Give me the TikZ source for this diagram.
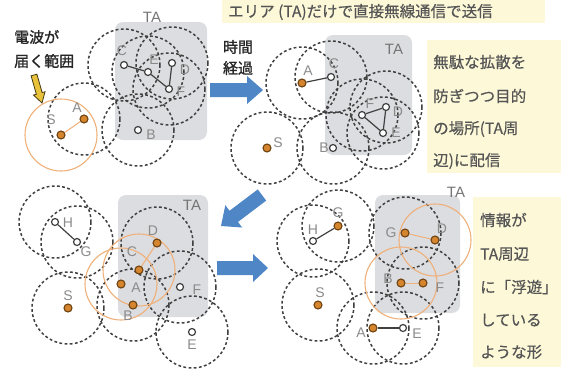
\documentclass[tikz,border=0pt]{standalone}
\usepackage{fontspec}
\setmainfont{Liberation Sans}
\newfontfamily\jp[FakeBold=0.4]{Noto Sans CJK JP}
\newfontfamily\jpb[FakeBold=1.3]{Noto Sans CJK JP}
\definecolor{rng}{HTML}{404040}
\definecolor{orng}{HTML}{EFB07A}
\definecolor{ofill}{HTML}{D6852F}
\definecolor{oline}{HTML}{6E4210}
\definecolor{tagray}{HTML}{DCDDE0}
\definecolor{lbl}{HTML}{8A8A8A}
\definecolor{pale}{HTML}{FCF8D8}
\definecolor{blu}{HTML}{4F86C6}
\definecolor{ylw}{HTML}{E8C23A}
\definecolor{jtxt}{HTML}{555555}
\pgfdeclarelayer{bg}
\pgfdeclarelayer{mid}
\pgfsetlayers{bg,mid,main}
\tikzset{
  wn/.style={circle, draw=rng, fill=white, line width=1.2pt, inner sep=0pt, minimum size=7pt},
  on/.style={circle, draw=oline, fill=ofill, line width=1.1pt, inner sep=0pt, minimum size=8pt},
  rngc/.style={draw=rng, line width=1.5pt, dash pattern=on 2.8pt off 2.4pt},
  orc/.style={draw=orng, line width=1.1pt},
  lab/.style={text=lbl, font=\fontsize{14}{14}\selectfont, inner sep=0pt},
  talab/.style={text=lbl!85!black, font=\fontsize{15}{15}\selectfont, inner sep=0pt},
  link/.style={draw=rng, line width=1.2pt},
  olink/.style={draw=orng, line width=1pt},
  tabox/.style={fill=tagray, rounded corners=8pt},
  jline/.style={text=jtxt, font=\jp\fontsize{15.5}{15.5}\selectfont, inner sep=0pt, anchor=west},
  jbold/.style={text=black!85, font=\jpb\fontsize{15}{15}\selectfont, inner sep=0pt},
  blarrow/.style={fill=blu},
}
\begin{document}
\begin{tikzpicture}[x=1pt,y=-1pt]
\useasboundingbox (0,0) rectangle (563,370);
% yellow text boxes
\fill[pale] (222,0) rectangle (545,23);
\node[jline] (banner) at (228,12) {エリア (TA)だけで直接無線通信で送信};
\fill[pale] (427,40) rectangle (561,173);
\node[jline] (t1a) at (433,62) {無駄な拡散を};
\node[jline] (t1b) at (433,96) {防ぎつつ目的};
\node[jline] (t1c) at (433,129) {の場所(TA周};
\node[jline] (t1d) at (433,161) {辺)に配信};
\fill[pale] (473,197) rectangle (561,367);
\node[jline] (t2a) at (480,220) {情報が};
\node[jline] (t2b) at (480,254) {TA周辺};
\node[jline] (t2c) at (480,287) {に「浮遊」};
\node[jline] (t2d) at (480,320) {している};
\node[jline] (t2e) at (480,352) {ような形};

% ===== Panel 1 =====
\begin{pgfonlayer}{bg}
\fill[tabox] (115,22) rectangle (207,140);
\end{pgfonlayer}
\node[talab] (p1TA) at (152,17) {TA};
\node[wn] (p1C) at (124,65) {};
\node[wn] (p1E) at (148,72) {};
\node[wn] (p1D) at (172,63) {};
\node[wn] (p1F) at (169,89) {};
\node[wn] (p1B) at (138,130) {};
\node[on] (p1S) at (61,135) {};
\node[on] (p1A) at (84,119) {};
\begin{pgfonlayer}{mid}
\foreach \n in {p1C,p1E,p1D,p1F,p1B,p1A} \draw[rngc] (\n.center) circle[radius=36];
\draw[orc] (p1S.center) circle[radius=36];
\draw[link] (p1C) -- (p1E);
\draw[link] (p1E) -- (p1F);
\draw[link] (p1D) -- (p1F);
\draw[olink] (p1S) -- (p1A);
\end{pgfonlayer}
\node[lab] (p1Cl) at (122,51) {C};
\node[lab] (p1El) at (154,60) {E};
\node[lab] (p1Dl) at (185,70) {D};
\node[lab] (p1Fl) at (181,92) {F};
\node[lab] (p1Bl) at (151,135) {B};
\node[lab] (p1Sl) at (51,120) {S};
\node[lab] (p1Al) at (77,108) {A};
\node[jbold, anchor=west] (rad1) at (14,37) {電波が};
\node[jbold, anchor=west] (rad2) at (14,61) {届く範囲};
\filldraw[fill=ylw, draw=black!70!ylw, line width=0.8pt, line join=miter]
  (36.89,74.17) -- (42.14,92.57) -- (45.02,91.75) -- (42,103) -- (33.48,95.05) -- (36.36,94.23) -- (31.11,75.83) -- cycle;

% time arrow
\node[jbold] (time1) at (238,47) {時間};
\node[jbold] (time2) at (238,68) {経過};
\fill[blarrow] (210,83) -- (247,83) -- (247,76) -- (263,90) -- (247,104) -- (247,97) -- (210,97) -- cycle;

% ===== Panel 2 =====
\begin{pgfonlayer}{bg}
\fill[tabox] (325,35) rectangle (412,155);
\end{pgfonlayer}
\node[talab] (p2TA) at (394,49) {TA};
\node[on] (p2A) at (302,83) {};
\node[wn] (p2C) at (331,77) {};
\node[wn] (p2F) at (362,115) {};
\node[wn] (p2D) at (386,107) {};
\node[wn] (p2E) at (383,133) {};
\node[wn] (p2B) at (333,148) {};
\node[on] (p2S) at (267,148) {};
\begin{pgfonlayer}{mid}
\foreach \n in {p2A,p2C,p2F,p2D,p2E,p2B,p2S} \draw[rngc] (\n.center) circle[radius=36];
\draw[link] (p2A) -- (p2C);
\draw[link] (p2F) -- (p2D);
\draw[link] (p2F) -- (p2E);
\draw[link] (p2D) -- (p2E);
\end{pgfonlayer}
\node[lab] (p2Al) at (308,71) {A};
\node[lab] (p2Cl) at (334,64) {C};
\node[lab] (p2Fl) at (370,104) {F};
\node[lab] (p2Dl) at (398,112) {D};
\node[lab] (p2El) at (396,133) {E};
\node[lab] (p2Bl) at (324,148) {B};
\node[lab] (p2Sl) at (278,143) {S};

% diagonal arrow
\fill[blarrow] (257.8,189.4) -- (229.55,210.76) -- (225.33,205.18) -- (221,226) -- (242.21,227.52) -- (237.99,221.94) -- (266.2,200.6) -- cycle;

% ===== Panel 3 =====
\begin{pgfonlayer}{bg}
\fill[tabox] (118,195) rectangle (208,317);
\end{pgfonlayer}
\node[talab] (p3TA) at (192,205) {TA};
\node[wn] (p3H) at (55,222) {};
\node[wn] (p3G) at (77,242) {};
\node[on] (p3S) at (68,308) {};
\node[on] (p3C) at (139,270) {};
\node[on] (p3D) at (157,243) {};
\node[on] (p3A) at (121,284) {};
\node[on] (p3B) at (133,305) {};
\node[wn] (p3F) at (180,287) {};
\node[wn] (p3E) at (192,332) {};
\begin{pgfonlayer}{mid}
\foreach \n in {p3H,p3G,p3S,p3D,p3B,p3F,p3E} \draw[rngc] (\n.center) circle[radius=36];
\draw[orc] (p3A.center) circle[radius=36];
\draw[orc] (p3C.center) circle[radius=36];
\draw[link] (p3H) -- (p3G);
\draw[olink] (p3C) -- (p3D);
\end{pgfonlayer}
\node[lab] (p3Hl) at (68,223) {H};
\node[lab] (p3Gl) at (86,252) {G};
\node[lab] (p3Sl) at (68,296) {S};
\node[lab] (p3Cl) at (132,252) {C};
\node[lab] (p3Dl) at (153,231) {D};
\node[lab] (p3Al) at (136,288) {A};
\node[lab] (p3Bl) at (128,316) {B};
\node[lab] (p3Fl) at (197,290) {F};
\node[lab] (p3El) at (192,345) {E};

% bottom arrow
\fill[blarrow] (217,261) -- (253,261) -- (253,254) -- (268,268) -- (253,282) -- (253,275) -- (217,275) -- cycle;

% ===== Panel 4 =====
\begin{pgfonlayer}{bg}
\fill[tabox] (375,195) rectangle (460,313);
\end{pgfonlayer}
\node[talab] (p4TA) at (456,192) {TA};
\node[wn] (p4H) at (313,241) {};
\node[on] (p4Ga) at (338,226) {};
\node[on] (p4Gb) at (405,233) {};
\node[on] (p4D) at (435,240) {};
\node[on] (p4B) at (401,283) {};
\node[on] (p4F) at (423,283) {};
\node[on] (p4S) at (318,305) {};
\node[on] (p4A) at (373,328) {};
\node[wn] (p4E) at (403,328) {};
\begin{pgfonlayer}{mid}
\foreach \n in {p4H,p4Ga,p4Gb,p4F,p4S,p4A,p4E} \draw[rngc] (\n.center) circle[radius=36];
\draw[orc] (p4D.center) circle[radius=36];
\draw[orc] (p4B.center) circle[radius=36];
\draw[link] (p4H) -- (p4Ga);
\draw[olink] (p4Gb) -- (p4D);
\draw[olink] (p4B) -- (p4F);
\draw[link] (p4A) -- (p4E);
\end{pgfonlayer}
\node[lab] (p4Hl) at (313,230) {H};
\node[lab] (p4Gal) at (338,213) {G};
\node[lab] (p4Gbl) at (391,233) {G};
\node[lab] (p4Dl) at (442,229) {D};
\node[lab] (p4Bl) at (388,279) {B};
\node[lab] (p4Fl) at (440,288) {F};
\node[lab] (p4Sl) at (320,293) {S};
\node[lab] (p4Al) at (361,333) {A};
\node[lab] (p4El) at (417,334) {E};
\end{tikzpicture}
\end{document}
